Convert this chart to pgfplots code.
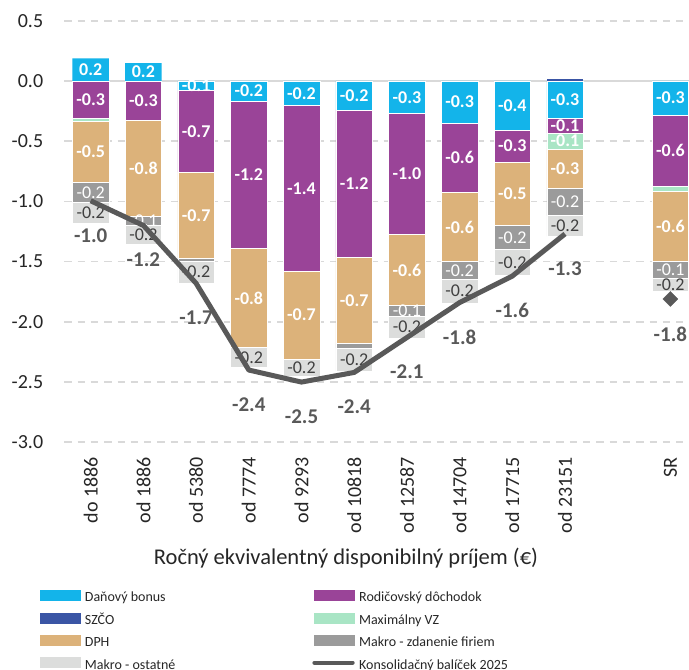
\documentclass[border=0pt]{standalone}
\usepackage{pgfplots}
\pgfplotsset{compat=1.18}
\usepackage{pgfplotstable}
\usepackage{fontspec}
\setmainfont{Carlito}

\definecolor{cCyan}{HTML}{13B4EA}
\definecolor{cPurple}{HTML}{9A4498}
\definecolor{cBlue}{HTML}{3A55A5}
\definecolor{cGreen}{HTML}{A9E5C5}
\definecolor{cTan}{HTML}{DCB27A}
\definecolor{cDGray}{HTML}{9B9B9B}
\definecolor{cLGray}{HTML}{DCDDDC}
\definecolor{cLine}{HTML}{595959}
\definecolor{cGrid}{HTML}{D9D9D9}
\definecolor{cText}{HTML}{262626}
\definecolor{cSegDark}{HTML}{404040}

% positive parts
\pgfplotstableread{
x v lab
0 0.188 0.2
1 0.148 0.2
9 0 {}
}\tblBonusPos
\pgfplotstableread{
x v lab
0 0 {}
1 0 {}
9 0.012 {}
}\tblSzcoPos
% negative parts
\pgfplotstableread{
x v lab
0 0 {}
1 0 {}
2 -0.080 -0.1
3 -0.165 -0.2
4 -0.205 -0.2
5 -0.240 -0.2
6 -0.270 -0.3
7 -0.350 -0.3
8 -0.410 -0.4
9 -0.310 -0.3
11 -0.285 -0.3
}\tblBonusNeg
\pgfplotstableread{
x v lab
0 -0.310 -0.3
1 -0.330 -0.3
2 -0.680 -0.7
3 -1.225 -1.2
4 -1.372 -1.4
5 -1.220 -1.2
6 -1.004 -1.0
7 -0.576 -0.6
8 -0.263 -0.3
9 -0.124 -0.1
11 -0.587 -0.6
}\tblParent
\pgfplotstableread{
x v lab
0 -0.025 {}
1 0 {}
2 0 {}
3 0 {}
4 0 {}
5 0 {}
6 0 {}
7 0 {}
8 0 {}
9 -0.130 -0.1
11 -0.042 {}
}\tblMaxVZ
\pgfplotstableread{
x v lab
0 -0.510 -0.5
1 -0.790 -0.8
2 -0.710 -0.7
3 -0.825 -0.8
4 -0.730 -0.7
5 -0.720 -0.7
6 -0.592 -0.6
7 -0.573 -0.6
8 -0.525 -0.5
9 -0.327 -0.3
11 -0.584 -0.6
}\tblDPH
\pgfplotstableread{
x v lab
0 -0.160 -0.2
1 -0.078 -0.1
2 -0.027 {}
3 0 {}
4 0 {}
5 -0.037 {}
6 -0.086 -0.1
7 -0.146 -0.2
8 -0.202 -0.2
9 -0.227 -0.2
11 -0.138 -0.1
}\tblMakroZd
\pgfplotstableread{
x v lab
0 -0.177 -0.2
1 -0.157 -0.2
2 -0.180 -0.2
3 -0.166 -0.2
4 -0.147 -0.2
5 -0.190 -0.2
6 -0.185 -0.2
7 -0.200 -0.2
8 -0.213 -0.2
9 -0.172 -0.2
11 -0.108 -0.2
}\tblMakroOst
\pgfplotstableread{
x v lab
0 -0.995 -1.0
1 -1.200 -1.2
2 -1.680 -1.7
3 -2.400 -2.4
4 -2.500 -2.5
5 -2.420 -2.4
6 -2.130 -2.1
7 -1.840 -1.8
8 -1.620 -1.6
9 -1.270 -1.3
}\tblLine
\pgfplotstableread{
x v lab
11 -1.810 -1.8
}\tblSR

\pgfplotsset{
  base/.style={
    scale only axis, width=624.5pt, height=421.6pt,
    xmin=-0.5, xmax=11.35, ymin=-3, ymax=0.5,
    at={(64.35pt,227.7pt)}, anchor=south west,
  },
  stackbars/.style={
    ybar stacked, bar width=36.5pt,
    point meta=explicit symbolic,
    nodes near coords,
    every node near coord/.append style={anchor=center, inner sep=0pt},
  },
  lblW/.style={nodes near coords style={font=\fontsize{18}{20}\selectfont\bfseries, text=white}},
  lblWn/.style={nodes near coords style={font=\fontsize{18}{20}\selectfont, text=white}},
  lblD/.style={nodes near coords style={font=\fontsize{18}{20}\selectfont, text=cSegDark}},
  barleg/.style={legend image code/.code={\fill[#1] (0pt,-2.5pt) rectangle (40pt,7.5pt);}},
}

\begin{document}
\begin{tikzpicture}
\path[use as bounding box] (0,0) rectangle (689pt,670pt);

% axis 1: grid, ticks, labels, negative stacked parts
\begin{axis}[base, stackbars,
  axis line style={draw=none}, tick style={draw=none},
  ytick={-3,-2.5,-2,-1.5,-1,-0.5,0.5},
  extra y ticks={0},
  extra y tick style={grid style={solid, draw=cGrid, line width=2pt}},
  ymajorgrids,
  grid style={draw=cGrid, line width=1.6pt, dash pattern=on 7.3pt off 6pt},
  /pgf/number format/assume math mode=true,
  yticklabel style={font=\fontsize{20}{24}\selectfont, text=cText, anchor=east, inner sep=0pt, xshift=-21pt,
     /pgf/number format/fixed, /pgf/number format/fixed zerofill, /pgf/number format/precision=1},
  xtick={0,1,2,3,4,5,6,7,8,9,11},
  xticklabels={do 1886, od 1886, od 5380, od 7774, od 9293, od 10818, od 12587, od 14704, od 17715, od 23151, SR},
  xticklabel style={font=\fontsize{20}{24}\selectfont, text=cText, yshift=-14.7pt, rotate=90, anchor=east, inner sep=0pt},
  xlabel={Ročný ekvivalentný disponibilný príjem (€)},
  xlabel style={at={(axis description cs:0.451,0)}, anchor=base, yshift=-122pt, font=\fontsize{22.5}{26}\selectfont, text=cText},
]
\addplot[fill=cCyan, draw=white, line width=0.5pt, lblW] table[x=x,y=v,meta=lab]{\tblBonusNeg};
\addplot[fill=cPurple, draw=white, line width=0.5pt, lblW] table[x=x,y=v,meta=lab]{\tblParent};
\addplot[fill=cGreen, draw=white, line width=0.5pt, lblW] table[x=x,y=v,meta=lab]{\tblMaxVZ};
\addplot[fill=cTan, draw=white, line width=0.5pt, lblW] table[x=x,y=v,meta=lab]{\tblDPH};
\addplot[fill=cDGray, draw=white, line width=0.5pt, lblWn] table[x=x,y=v,meta=lab]{\tblMakroZd};
\addplot[fill=cLGray, draw=white, line width=0.5pt, lblD] table[x=x,y=v,meta=lab]{\tblMakroOst};
\end{axis}

% axis 2: positive stacked parts
\begin{axis}[base, stackbars, hide axis]
\addplot[fill=cCyan, draw=none, lblW] table[x=x,y=v,meta=lab]{\tblBonusPos};
\addplot[fill=cBlue, draw=none, lblW] table[x=x,y=v,meta=lab]{\tblSzcoPos};
\end{axis}

% axis 3: consolidation line, SR marker, legend
\begin{axis}[base, hide axis,
  point meta=explicit symbolic,
  legend columns=2, legend cell align=left,
  legend style={at={(axis description cs:-0.039,-0.3508)}, anchor=north west,
    draw=none, fill=none, inner sep=0pt, outer sep=0pt,
    font=\fontsize{14}{16}\selectfont, text=cText, row sep=7.7pt,
    nodes={inner sep=0pt, text height=11pt, text depth=3pt},
    /tikz/every odd column/.append style={column sep=4.5pt},
    /tikz/every even column/.append style={column sep=137pt}},
]
\addlegendimage{barleg=cCyan}\addlegendentry{Daňový bonus}
\addlegendimage{barleg=cPurple}\addlegendentry{Rodičovský dôchodok}
\addlegendimage{barleg=cBlue}\addlegendentry{SZČO}
\addlegendimage{barleg=cGreen}\addlegendentry{Maximálny VZ}
\addlegendimage{barleg=cTan}\addlegendentry{DPH}
\addlegendimage{barleg=cDGray}\addlegendentry{Makro - zdanenie firiem}
\addlegendimage{barleg=cLGray}\addlegendentry{Makro - ostatné}
\addplot[cLine, line width=5pt, line join=round, mark=none,
  legend image code/.code={\draw[cLine, line width=4pt, line cap=round] (0.5pt,2.5pt) -- (38.8pt,2.5pt);},
  nodes near coords,
  nodes near coords style={font=\fontsize{21}{24}\selectfont\bfseries, text=cLine, anchor=center, inner sep=0pt, yshift=-34.5pt}]
  table[x=x,y=v,meta=lab]{\tblLine};
\addlegendentry{Konsolidačný balíček 2025}
\addplot[forget plot, only marks, mark=square*, mark size=5.3pt,
  mark options={rotate=45, fill=cLine, draw=cLine},
  nodes near coords,
  nodes near coords style={font=\fontsize{21}{24}\selectfont\bfseries, text=cLine, anchor=center, inner sep=0pt, yshift=-35.5pt}]
  table[x=x,y=v,meta=lab]{\tblSR};
\end{axis}
\end{tikzpicture}
\end{document}
